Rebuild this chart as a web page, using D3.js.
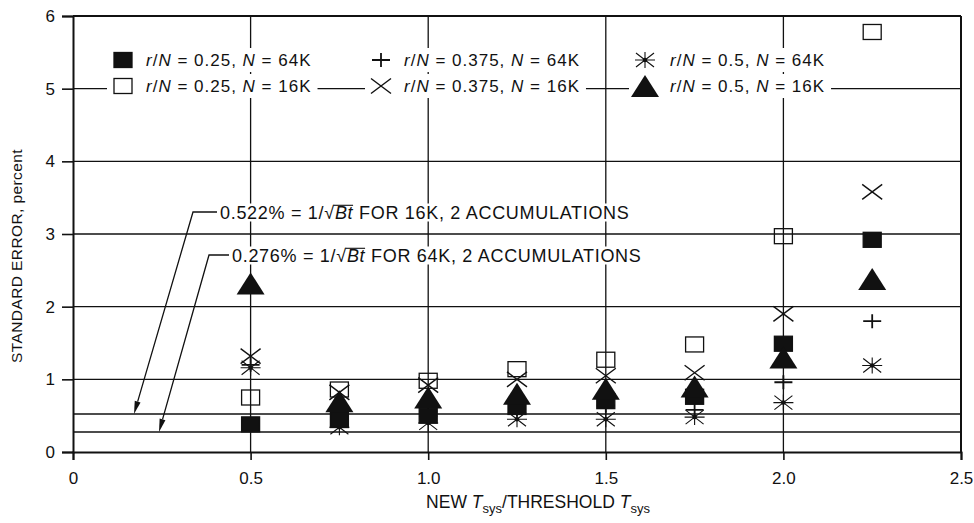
<!DOCTYPE html>
<html><head><meta charset="utf-8">
<script src="https://cdn.jsdelivr.net/npm/d3@7"></script>
<style>
html,body{margin:0;padding:0;background:#fff;}
svg{display:block;font-family:"Liberation Sans",Arial,Helvetica,sans-serif;}
</style></head>
<body><svg id="c" width="974" height="523"></svg>
<script>
// ---- data ----
const xVals   = [0.5, 0.75, 1.0, 1.25, 1.5, 1.75, 2.0, 2.25];
const sq64    = [0.38, 0.44, 0.50, 0.62, 0.70, 0.76, 1.49, 2.92];   // filled square r/N=0.25 N=64K
const sq16    = [0.75, 0.86, 0.98, 1.14, 1.27, 1.48, 2.97, 5.78];   // open square r/N=0.25 N=16K
const plus64  = [1.20, 0.45, 0.56, 0.58, 0.64, 0.58, 0.96, 1.80];   // + r/N=0.375 N=64K
const x16     = [1.32, 0.82, 0.92, 1.00, 1.05, 1.09, 1.90, 3.58];   // x r/N=0.375 N=16K
const ast64   = [1.16, 0.34, 0.40, 0.45, 0.45, 0.48, 0.68, 1.19];   // asterisk r/N=0.5 N=64K
const tri16   = [2.32, 0.70, 0.75, 0.80, 0.87, 0.90, 1.30, 2.38];   // triangle r/N=0.5 N=16K
const xTicks  = [0, 0.5, 1.0, 1.5, 2.0, 2.5];
const xTickLabels = ["0", "0.5", "1.0", "1.5", "2.0", "2.5"];
const yTicks  = [0, 1, 2, 3, 4, 5, 6];
const refVals = [0.522, 0.276];
const refNotes = ["0.522%", "0.276%"];
const refSizes = ["16K", "64K"];
const legendRatio = ["0.25", "0.25", "0.375", "0.375", "0.5", "0.5"];
const legendN     = ["64K", "16K", "64K", "16K", "64K", "16K"];
const legendSym   = ["fsq", "osq", "plus", "cross", "ast", "tri"];

// ---- setup ----
const svg = d3.select("#c");
const x = d3.scaleLinear().domain([0, 2.5]).range([73, 961]);
const y = d3.scaleLinear().domain([0, 6]).range([452, 16]);
const ink = "#111";

function drawSym(g, type) {
  if (type === "fsq" || type === "osq") {
    g.append("rect").attr("x", -9).attr("y", -7.5).attr("width", 18).attr("height", 15)
      .attr("fill", type === "fsq" ? ink : "none").attr("stroke", ink).attr("stroke-width", 1.3);
  } else if (type === "tri") {
    g.append("path").attr("d", "M0,-11 L14,11 L-14,11 Z").attr("fill", ink);
  } else if (type === "cross") {
    g.append("path").attr("d", "M-10,-7.5 L10,7.5 M-10,7.5 L10,-7.5").attr("stroke", ink).attr("stroke-width", 1.4).attr("fill", "none");
  } else if (type === "plus") {
    g.append("path").attr("d", "M-9,0 L9,0 M0,-7 L0,7").attr("stroke", ink).attr("stroke-width", 1.8).attr("fill", "none");
  } else if (type === "ast") {
    g.append("path").attr("d", "M-10,0 L10,0 M-9,-7 L9,7 M-9,7 L9,-7 M0,-8 L0,8").attr("stroke", ink).attr("stroke-width", 1.1).attr("fill", "none");
    g.append("circle").attr("r", 2.3).attr("fill", ink);
  }
}

// ---- grid ----
const grid = svg.append("g");
yTicks.filter(v => v > 0 && v < 6).concat(refVals).forEach(v => {
  grid.append("line").attr("x1", x(0)).attr("x2", x(2.5)).attr("y1", y(v)).attr("y2", y(v))
    .attr("stroke", ink).attr("stroke-width", 1.4);
});
xTicks.filter(v => v > 0 && v < 2.5).forEach(v => {
  grid.append("line").attr("x1", x(v)).attr("x2", x(v)).attr("y1", y(0)).attr("y2", y(6))
    .attr("stroke", ink).attr("stroke-width", 1.3);
});

// ---- axes ----
const yAxis = svg.append("g").attr("transform", `translate(${x(0)},0)`)
  .call(d3.axisLeft(y).tickValues(yTicks).tickFormat(d3.format("d")).tickSize(11).tickPadding(7));
const xAxis = svg.append("g").attr("transform", `translate(0,${y(0)})`)
  .call(d3.axisBottom(x).tickValues(xTicks).tickFormat((d, i) => xTickLabels[i]).tickSize(8).tickPadding(12));
[yAxis, xAxis].forEach(a => {
  a.select(".domain").attr("stroke", ink).attr("stroke-width", 2);
  a.selectAll(".tick line").attr("stroke", ink).attr("stroke-width", 1.6);
  a.selectAll(".tick text").attr("fill", ink).attr("font-size", 17)
    .attr("font-family", '"Liberation Sans",Arial,sans-serif');
});
svg.append("line").attr("x1", x(0)).attr("x2", x(2.5)).attr("y1", y(6)).attr("y2", y(6)).attr("stroke", ink).attr("stroke-width", 2);
svg.append("line").attr("x1", x(2.5)).attr("x2", x(2.5)).attr("y1", y(6)).attr("y2", y(0)).attr("stroke", ink).attr("stroke-width", 2);

// axis titles
svg.append("text").attr("transform", `translate(22,${(y(0)+y(6))/2 + 22}) rotate(-90)`)
  .attr("text-anchor", "middle").attr("font-size", 15.5).attr("fill", ink).attr("letter-spacing", 0.4)
  .text("STANDARD ERROR, percent");
const xt = svg.append("text").attr("x", 538).attr("y", 508).attr("text-anchor", "middle")
  .attr("font-size", 17.5).attr("fill", ink);
xt.append("tspan").text("NEW ");
xt.append("tspan").attr("font-style", "italic").text("T");
xt.append("tspan").attr("font-size", 13).attr("dy", 5).text("sys");
xt.append("tspan").attr("dy", -5).text("/THRESHOLD ");
xt.append("tspan").attr("font-style", "italic").text("T");
xt.append("tspan").attr("font-size", 13).attr("dy", 5).text("sys");

// ---- annotations ----
const annPos = [{tx: 220, ty: 212, kx: 193, tipx: 134}, {tx: 232, ty: 255, kx: 209, tipx: 159}];
refVals.forEach((v, i) => {
  const p = annPos[i];
  const g = svg.append("g");
  const bg = g.append("rect").attr("fill", "#fff");
  const t = g.append("text").attr("x", p.tx).attr("y", p.ty + 6.5).attr("font-size", 18)
    .attr("letter-spacing", 0.7).attr("fill", ink);
  t.append("tspan").text(refNotes[i] + " = 1/");
  const rad = t.append("tspan").text("\u221A");
  const bt = t.append("tspan").attr("font-style", "italic").text("Bt");
  t.append("tspan").text(" FOR " + refSizes[i] + ", 2 ACCUMULATIONS");
  const bb = t.node().getBBox();
  bg.attr("x", bb.x - 2).attr("y", bb.y + 1).attr("width", bb.width + 4).attr("height", bb.height - 2);
  const rb = rad.node().getBBox(), bb2 = bt.node().getBBox();
  g.append("line").attr("x1", rb.x + rb.width - 1.5).attr("x2", bb2.x + bb2.width - 0.5)
    .attr("y1", rb.y + 2.8).attr("y2", rb.y + 2.8).attr("stroke", ink).attr("stroke-width", 1.1);
  const ty = y(v);
  const dx = p.tipx - p.kx, dy = ty - p.ty, L = Math.hypot(dx, dy);
  const ux = dx / L, uy = dy / L;
  const bx = p.tipx - ux * 13, by = ty - uy * 13;
  svg.append("path").attr("d", `M${p.tx - 3},${p.ty} L${p.kx},${p.ty} L${bx},${by}`)
    .attr("fill", "none").attr("stroke", ink).attr("stroke-width", 1.3);
  svg.append("path").attr("d", `M${p.tipx},${ty} L${bx - uy * 3},${by + ux * 3} L${bx + uy * 3},${by - ux * 3} Z`)
    .attr("fill", ink);
});

// ---- legend ----
const legCols = [{sx: 123, tx: 146}, {sx: 381, tx: 404}, {sx: 645, tx: 670}];
const legRowY = [60, 86];
legendSym.forEach((s, i) => {
  const c = legCols[Math.floor(i / 2)], ry = legRowY[i % 2];
  const g = svg.append("g");
  const bg = g.append("rect").attr("fill", "#fff");
  const sg = g.append("g").attr("transform", `translate(${c.sx},${ry})`);
  drawSym(sg, s);
  const t = g.append("text").attr("x", c.tx).attr("y", ry + 6).attr("font-size", 17)
    .attr("letter-spacing", 1.0).attr("fill", ink);
  t.append("tspan").attr("font-style", "italic").text("r");
  t.append("tspan").text("/");
  t.append("tspan").attr("font-style", "italic").text("N");
  t.append("tspan").text(" = " + legendRatio[i] + ", ");
  t.append("tspan").attr("font-style", "italic").text("N");
  t.append("tspan").text(" = " + legendN[i]);
  const bb = t.node().getBBox();
  bg.attr("x", c.sx - 16).attr("y", ry - 12).attr("width", bb.x + bb.width - c.sx + 22).attr("height", 24);
});

// ---- data points ----
const series = [
  {vals: ast64, sym: "ast"},
  {vals: plus64, sym: "plus"},
  {vals: sq16, sym: "osq"},
  {vals: x16, sym: "cross"},
  {vals: sq64, sym: "fsq"},
  {vals: tri16, sym: "tri"}
];
const pts = svg.append("g");
series.forEach(se => {
  se.vals.forEach((v, i) => {
    const g = pts.append("g").attr("transform", `translate(${x(xVals[i])},${y(v)})`);
    drawSym(g, se.sym);
  });
});
</script></body></html>
